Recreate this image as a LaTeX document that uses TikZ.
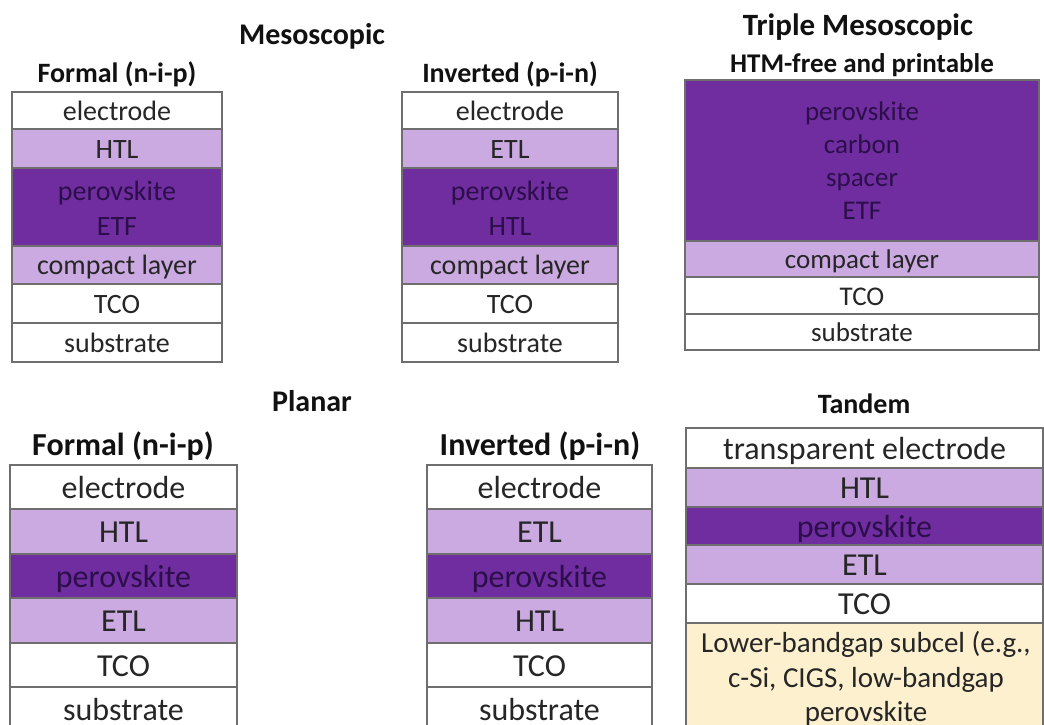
\documentclass[tikz,border=0pt]{standalone}
\usepackage{fontspec}
\setmainfont{Carlito}
\definecolor{edge}{HTML}{6E6E6E}
\definecolor{lt}{HTML}{CBAAE2}
\definecolor{dk}{HTML}{6F2DA0}
\definecolor{ylw}{HTML}{FDF0CF}
\definecolor{ink}{HTML}{262626}
\definecolor{dink}{HTML}{2C0F4A}
\definecolor{tink}{HTML}{111111}
\tikzset{
  lay/.style={draw=edge, line width=1.3pt},
  wl/.style={lay, fill=white},
  ll/.style={lay, fill=lt},
  dl/.style={lay, fill=dk},
  yl/.style={lay, fill=ylw},
  t27/.style={anchor=base, inner sep=0pt, text=ink, font=\fontsize{27}{33}\selectfont},
  t28/.style={anchor=base, inner sep=0pt, text=ink, font=\fontsize{28}{34}\selectfont},
  t29/.style={anchor=base, inner sep=0pt, text=ink, font=\fontsize{29}{35}\selectfont},
  t32/.style={anchor=base, inner sep=0pt, text=ink, font=\fontsize{32}{38}\selectfont},
  dt/.style={text=dink},
  hd/.style={anchor=base, inner sep=0pt, text=tink, font=\bfseries\fontsize{#1}{#1}\selectfont},
}
\begin{document}
\begin{tikzpicture}[x=1pt,y=-1pt]
\useasboundingbox (0,0) rectangle (1044,724);
\clip (0,0) rectangle (1044,724);
\fill[white] (0,0) rectangle (1044,724);

% ---------- headings ----------
\node[hd=30] (hMeso) at (312,44) {Mesoscopic};
\node[hd=28] (hTF) at (117,82) {Formal (n-i-p)};
\node[hd=28] (hTI) at (510,82) {Inverted (p-i-n)};
\node[hd=31] (hTrip) at (858,35) {Triple Mesoscopic};
\node[hd=27] (hHTM) at (862,72) {HTM-free and printable};
\node[hd=30] (hPlan) at (312,411) {Planar};
\node[hd=32] (hBF) at (123,455) {Formal (n-i-p)};
\node[hd=32] (hBI) at (540,455) {Inverted (p-i-n)};
\node[hd=28] (hTand) at (864,413) {Tandem};

% ---------- top-left: mesoscopic formal ----------
\path[wl] (12,92) rectangle (222,129);
\path[ll] (12,129) rectangle (222,168);
\path[dl] (12,168) rectangle (222,246);
\path[ll] (12,246) rectangle (222,284);
\path[wl] (12,284) rectangle (222,323);
\path[wl] (12,323) rectangle (222,362);
\node[t28] (a1) at (117,120) {electrode};
\node[t28] (a2) at (117,158) {HTL};
\node[t28,dt] (a3) at (117,200) {perovskite};
\node[t28,dt] (a4) at (117,235) {ETF};
\node[t28] (a5) at (117,274.5) {compact layer};
\node[t28] (a6) at (117,313) {TCO};
\node[t28] (a7) at (117,352) {substrate};

% ---------- top-middle: mesoscopic inverted ----------
\path[wl] (402,92) rectangle (618,129);
\path[ll] (402,129) rectangle (618,168);
\path[dl] (402,168) rectangle (618,246);
\path[ll] (402,246) rectangle (618,284);
\path[wl] (402,284) rectangle (618,323);
\path[wl] (402,323) rectangle (618,362);
\node[t28] (b1) at (510,120) {electrode};
\node[t28] (b2) at (510,158) {ETL};
\node[t28,dt] (b3) at (510,200) {perovskite};
\node[t28,dt] (b4) at (510,235) {HTL};
\node[t28] (b5) at (510,274.5) {compact layer};
\node[t28] (b6) at (510,313) {TCO};
\node[t28] (b7) at (510,352) {substrate};

% ---------- top-right: triple mesoscopic ----------
\path[dl] (685,80) rectangle (1039,241);
\path[ll] (685,241) rectangle (1039,277);
\path[wl] (685,277) rectangle (1039,314);
\path[wl] (685,314) rectangle (1039,350);
\node[t27,dt] (c1) at (862,120) {perovskite};
\node[t27,dt] (c2) at (862,153) {carbon};
\node[t27,dt] (c3) at (862,186) {spacer};
\node[t27,dt] (c4) at (862,219) {ETF};
\node[t27] (c5) at (862,268) {compact layer};
\node[t27] (c6) at (862,305) {TCO};
\node[t27] (c7) at (862,341) {substrate};

% ---------- bottom-left: planar formal ----------
\path[wl] (10,465) rectangle (237,509);
\path[ll] (10,509) rectangle (237,554);
\path[dl] (10,554) rectangle (237,598);
\path[ll] (10,598) rectangle (237,643);
\path[wl] (10,643) rectangle (237,687);
\path[wl] (10,687) rectangle (237,740);
\node[t32] (d1) at (123.5,498) {electrode};
\node[t32] (d2) at (123.5,542.5) {HTL};
\node[t32,dt] (d3) at (123.5,587) {perovskite};
\node[t32] (d4) at (123.5,631.5) {ETL};
\node[t32] (d5) at (123.5,676) {TCO};
\node[t32] (d6) at (123.5,720) {substrate};

% ---------- bottom-middle: planar inverted ----------
\path[wl] (427,465) rectangle (652,509);
\path[ll] (427,509) rectangle (652,554);
\path[dl] (427,554) rectangle (652,598);
\path[ll] (427,598) rectangle (652,643);
\path[wl] (427,643) rectangle (652,687);
\path[wl] (427,687) rectangle (652,740);
\node[t32] (e1) at (539.5,498) {electrode};
\node[t32] (e2) at (539.5,542.5) {ETL};
\node[t32,dt] (e3) at (539.5,587) {perovskite};
\node[t32] (e4) at (539.5,631.5) {HTL};
\node[t32] (e5) at (539.5,676) {TCO};
\node[t32] (e6) at (539.5,720) {substrate};

% ---------- bottom-right: tandem ----------
\path[wl] (686,428) rectangle (1043,468);
\path[ll] (686,468) rectangle (1043,507);
\path[dl] (686,507) rectangle (1043,545);
\path[ll] (686,545) rectangle (1043,584);
\path[wl] (686,584) rectangle (1043,623);
\path[yl] (686,623) rectangle (1043,740);
\node[t32] (f1) at (864.5,459) {transparent electrode};
\node[t32] (f2) at (864.5,498) {HTL};
\node[t32,dt] (f3) at (864.5,537) {perovskite};
\node[t32] (f4) at (864.5,575) {ETL};
\node[t32] (f5) at (864.5,614) {TCO};
\node[t29] (f6) at (866,652) {Lower-bandgap subcel (e.g.,};
\node[t29] (f7) at (866,687) {c-Si, CIGS, low-bandgap};
\node[t29] (f8) at (866,721) {perovskite};
\end{tikzpicture}
\end{document}
